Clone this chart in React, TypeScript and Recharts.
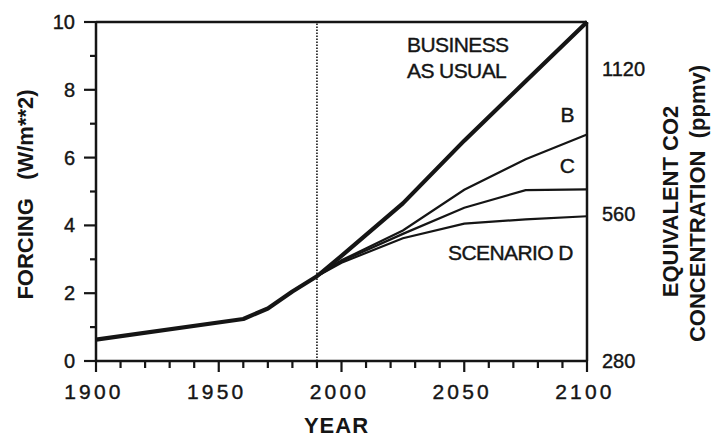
import React from 'react';
import { LineChart, Line, XAxis, YAxis, ReferenceLine, ReferenceDot, Label } from 'recharts';

// radiative forcing (W/m**2)
const years = [1900, 1960, 1970, 1980, 1990, 2000, 2025, 2050, 2075, 2100];
const businessAsUsual = [0.63, 1.24, 1.55, 2.05, 2.5, 3.1, 4.65, 6.5, 8.25, 10];
const scenarioB = [null, null, null, null, 2.5, 2.97, 3.85, 5.05, 5.95, 6.68];
const scenarioC = [null, null, null, null, 2.5, 2.94, 3.75, 4.52, 5.04, 5.06];
const scenarioD = [null, null, null, null, 2.5, 2.9, 3.62, 4.05, 4.18, 4.27];

const yearTicks = [
  1900, 1910, 1920, 1930, 1940, 1950, 1960, 1970, 1980, 1990, 2000,
  2010, 2020, 2030, 2040, 2050, 2060, 2070, 2080, 2090, 2100,
];
const yearLabels = [1900, 1950, 2000, 2050, 2100];
const forcingTicks = [0, 1, 2, 3, 4, 5, 6, 7, 8, 9, 10];
const forcingLabels = [0, 2, 4, 6, 8, 10];
const co2Labels = [280, 560, 1120];
const co2TickForcing = [0, 4.35, 8.6];
const presentYear = 1990;

const notes = [
  { text: 'BUSINESS', year: 2026.7, value: 9.34, anchor: 'start' },
  { text: 'AS USUAL', year: 2026.7, value: 8.58, anchor: 'start' },
  { text: 'B', year: 2091.9, value: 7.26, anchor: 'middle' },
  { text: 'C', year: 2091.9, value: 5.78, anchor: 'middle' },
  { text: 'SCENARIO D', year: 2043.4, value: 3.19, anchor: 'start' },
];

const data = years.map((year, i) => ({
  year,
  bau: businessAsUsual[i],
  b: scenarioB[i],
  c: scenarioC[i],
  d: scenarioD[i],
}));

const FONT = '"Liberation Sans", Arial, Helvetica, sans-serif';
const INK = '#151515';

const LeftTick = (props: any) => {
  const { x, y, payload } = props;
  const major = forcingLabels.includes(payload.value);
  return (
    <g>
      <line x1={x - (major ? 12 : 6)} y1={y} x2={x} y2={y} stroke={INK} strokeWidth={2.2} />
      {major && (
        <text x={x - 21} y={y} textAnchor="end" dominantBaseline="central"
          fontSize={20} fontFamily={FONT} fill={INK} stroke={INK} strokeWidth={0.4}>
          {payload.value}
        </text>
      )}
    </g>
  );
};

const BottomTick = (props: any) => {
  const { x, y, payload } = props;
  const major = yearLabels.includes(payload.value);
  return (
    <g>
      <line x1={x} y1={y} x2={x} y2={y + (major ? 11 : 7)} stroke={INK} strokeWidth={2.2} />
      {major && (
        <text x={x - 2} y={y + 30} textAnchor="middle" dominantBaseline="central"
          fontSize={21} letterSpacing={3.2} fontFamily={FONT} fill={INK} stroke={INK} strokeWidth={0.4}>
          {payload.value}
        </text>
      )}
    </g>
  );
};

const RightTick = (props: any) => {
  const { x, y, payload } = props;
  return (
    <text x={x} y={y} textAnchor="start" dominantBaseline="central"
      fontSize={20} fontFamily={FONT} fill={INK} stroke={INK} strokeWidth={0.4}>
      {co2Labels[co2TickForcing.indexOf(payload.value)]}
    </text>
  );
};

const LeftTitle = (props: any) => {
  const vb = props.viewBox;
  const cx = vb.x + 25;
  const cy = vb.y + vb.height / 2 + 3;
  return (
    <text x={cx} y={cy} transform={`rotate(-90, ${cx}, ${cy})`} textAnchor="middle"
      dominantBaseline="central" fontSize={22} fontWeight="bold" fontFamily={FONT} fill={INK}>
      {'FORCING\u00a0\u00a0\u00a0(W/m**2)'}
    </text>
  );
};

const RightTitle = (props: any) => {
  const vb = props.viewBox;
  const x1 = vb.x + 83;
  const x2 = vb.x + 110;
  const cy = vb.y + vb.height / 2 + 12;
  return (
    <g fontSize={22} fontWeight="bold" fontFamily={FONT} fill={INK}>
      <text x={x1} y={cy - 2} transform={`rotate(-90, ${x1}, ${cy - 2})`} textAnchor="middle" dominantBaseline="central">
        EQUIVALENT CO2
      </text>
      <text x={x2} y={cy} transform={`rotate(-90, ${x2}, ${cy})`} textAnchor="middle" dominantBaseline="central">
        {'CONCENTRATION\u00a0\u00a0(ppmv)'}
      </text>
    </g>
  );
};

const YearTitle = (props: any) => {
  const vb = props.viewBox;
  return (
    <text x={vb.x + vb.width / 2 - 5} y={vb.y + 64} textAnchor="middle" dominantBaseline="central"
      fontSize={22} fontWeight="bold" letterSpacing={1} fontFamily={FONT} fill={INK}>
      YEAR
    </text>
  );
};

const noteShape = (text: string, anchor: string) => (p: any) => (
  <text x={p.cx} y={p.cy} textAnchor={anchor} dominantBaseline="central"
    fontSize={21} letterSpacing={-0.6} fontFamily={FONT} fill={INK} stroke={INK} strokeWidth={0.4}>
    {text}
  </text>
);

export default function App() {
  return (
    <div style={{ position: 'absolute', left: 0, top: 0, width: 714, height: 439, background: '#fff' }}>
      <LineChart width={714} height={439} data={data} margin={{ top: 22, right: 0, bottom: 0, left: 0 }}>
        <XAxis dataKey="year" type="number" domain={[1900, 2100]} ticks={yearTicks} interval={0}
          height={78} tickSize={0} tickMargin={0} tickLine={false} tick={<BottomTick />}
          axisLine={{ stroke: INK, strokeWidth: 2.5 }}>
          <Label content={<YearTitle />} />
        </XAxis>
        <YAxis yAxisId="left" type="number" domain={[0, 10]} ticks={forcingTicks} interval={0}
          width={96} tickSize={0} tickMargin={0} tickLine={false} tick={<LeftTick />}
          axisLine={{ stroke: INK, strokeWidth: 2.5 }}>
          <Label content={<LeftTitle />} />
        </YAxis>
        <YAxis yAxisId="right" orientation="right" type="number" domain={[0, 10]} ticks={co2TickForcing}
          interval={0} width={127} tickSize={0} tickMargin={15} tickLine={false}
          tick={<RightTick />}
          axisLine={{ stroke: INK, strokeWidth: 2.5 }}>
          <Label content={<RightTitle />} />
        </YAxis>
        <ReferenceLine yAxisId="right" y={10} stroke={INK} strokeWidth={2.5} ifOverflow="extendDomain" />
        <ReferenceLine yAxisId="left" x={presentYear} stroke={INK} strokeWidth={1.6} strokeDasharray="1.5 1.5" />
        <Line yAxisId="right" dataKey="d" type="linear" stroke={INK} strokeWidth={2.2} dot={false} isAnimationActive={false} />
        <Line yAxisId="left" dataKey="c" type="linear" stroke={INK} strokeWidth={2.2} dot={false} isAnimationActive={false} />
        <Line yAxisId="left" dataKey="b" type="linear" stroke={INK} strokeWidth={2.2} dot={false} isAnimationActive={false} />
        <Line yAxisId="left" dataKey="bau" type="linear" stroke={INK} strokeWidth={4.2} dot={false}
          strokeLinejoin="round" isAnimationActive={false} />
        {notes.map((n) => (
          <ReferenceDot key={n.text} yAxisId="left" x={n.year} y={n.value} r={0}
            shape={noteShape(n.text, n.anchor)} />
        ))}
      </LineChart>
    </div>
  );
}
